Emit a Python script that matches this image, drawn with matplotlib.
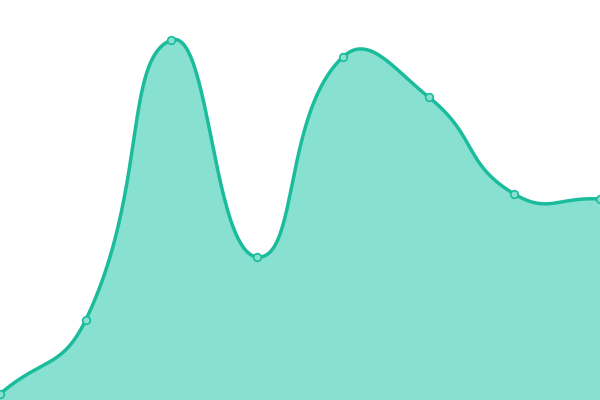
import matplotlib
matplotlib.use("Agg")
import matplotlib.pyplot as plt
import numpy as np

# values (height above the bottom edge)
categories = [0, 1, 2, 3, 4, 5, 6, 7]
values = [6, 80, 360, 143, 343, 303, 206, 201]

line_color = "#1abc9c"
fill_color = "#88e0d0"


def smooth_curve(xs, ys, smooth=0.5, n=50):
    # bezier smoothing with tangents weighted by neighbouring segment lengths,
    # worked out in pixel space (x step is 600/7 px, y is 1 px per unit)
    sx = 600 / 7
    pts = np.column_stack([np.asarray(xs) * sx, ys]).astype(float)
    m = len(pts)
    cp_in = [None] * m
    cp_out = [None] * m
    for i in range(m):
        p = pts[i]
        prev = pts[i - 1] if i > 0 else p
        nxt = pts[i + 1] if i < m - 1 else p
        v = nxt - prev
        d0 = np.hypot(*(p - prev))
        d1 = np.hypot(*(nxt - p))
        r = d1 / (d0 + d1) if d0 + d1 > 0 else 0.5
        cp_out[i] = p + v * smooth * r
        cp_in[i] = p - v * smooth * (1 - r)
    out = [pts[0]]
    t = np.linspace(0, 1, n)[1:, None]
    for i in range(m - 1):
        p1, c1, c2, p2 = pts[i], cp_out[i], cp_in[i + 1], pts[i + 1]
        seg = (1 - t) ** 3 * p1 + 3 * (1 - t) ** 2 * t * c1 + 3 * (1 - t) * t ** 2 * c2 + t ** 3 * p2
        out.extend(seg)
    out = np.array(out)
    return out[:, 0] / sx, out[:, 1]


fig = plt.figure(figsize=(6, 4), dpi=100)
ax = fig.add_axes([0, 0, 1, 1])

cx, cy = smooth_curve(categories, values)
ax.fill_between(cx, cy, 0, color=fill_color, linewidth=0)
ax.plot(cx, cy, color=line_color, linewidth=2.5, solid_capstyle="round", clip_on=False)
ax.plot(categories, values, "o", markersize=5.5, markerfacecolor=fill_color,
        markeredgecolor=line_color, markeredgewidth=1.2, clip_on=False)

ax.set_xlim(0, 7)
ax.set_ylim(0, 400)
ax.axis("off")

fig.savefig("out.png", dpi=100)
